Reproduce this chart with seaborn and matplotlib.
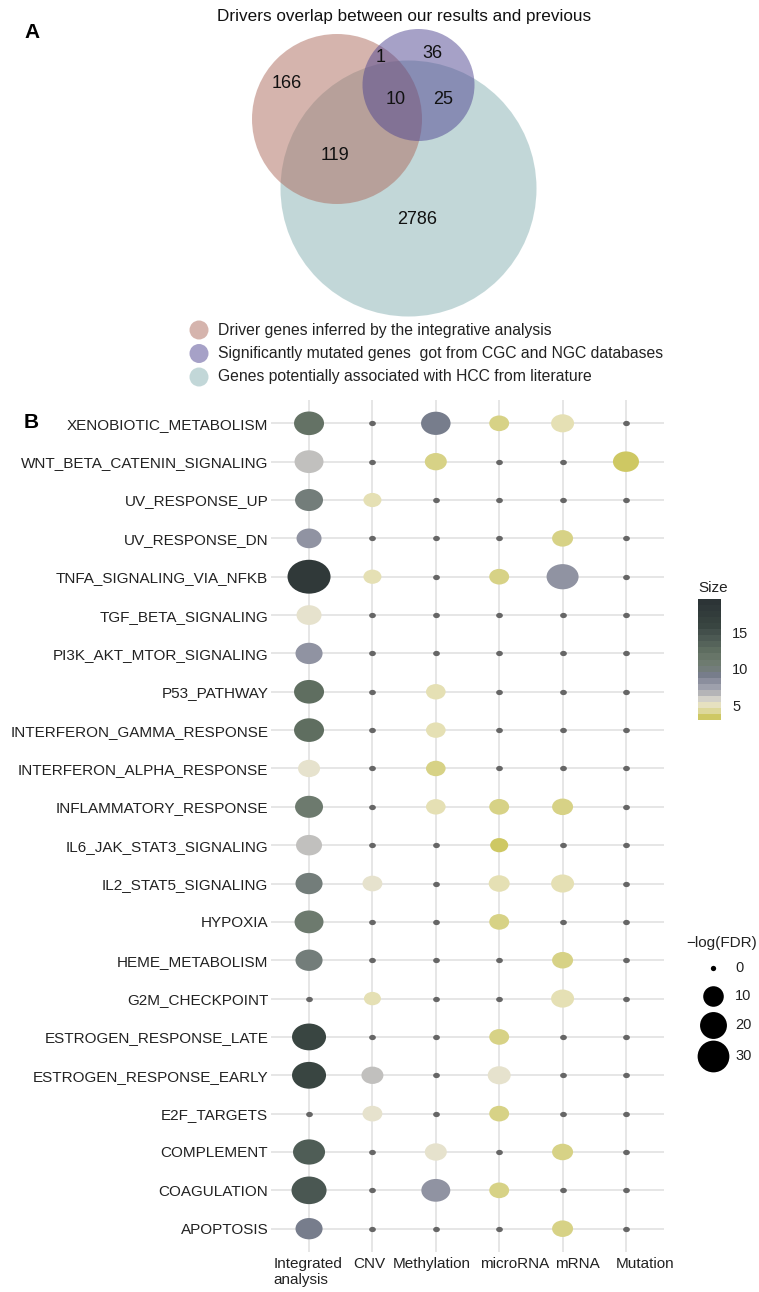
import numpy as np
import pandas as pd
import matplotlib
matplotlib.use("Agg")
import matplotlib.pyplot as plt
import matplotlib.colors as mcolors
from matplotlib.patches import Circle
from matplotlib.path import Path
from matplotlib.markers import MarkerStyle
from matplotlib.transforms import Affine2D, ScaledTranslation
from matplotlib.lines import Line2D
import seaborn as sns

sns.set_theme(style="white")
plt.rcParams["font.family"] = ["Liberation Sans", "DejaVu Sans"]

# ---------------- Panel A: Venn data ----------------
venn_title = "Drivers overlap between our results and previous"
set_names = [
    "Driver genes inferred by the integrative analysis",
    "Significantly mutated genes  got from CGC and NGC databases",
    "Genes potentially associated with HCC from literature",
]
set_colors = ["#ad6b5d", "#4f4591", "#87b1b3"]
# region counts: only-driver, driver&mutated, only-mutated, all three,
# mutated&literature, driver&literature, only-literature
region_counts = [166, 1, 36, 10, 25, 119, 2786]

# ---------------- Panel B: enrichment data ----------------
pathways = [
    "XENOBIOTIC_METABOLISM", "WNT_BETA_CATENIN_SIGNALING", "UV_RESPONSE_UP",
    "UV_RESPONSE_DN", "TNFA_SIGNALING_VIA_NFKB", "TGF_BETA_SIGNALING",
    "PI3K_AKT_MTOR_SIGNALING", "P53_PATHWAY", "INTERFERON_GAMMA_RESPONSE",
    "INTERFERON_ALPHA_RESPONSE", "INFLAMMATORY_RESPONSE", "IL6_JAK_STAT3_SIGNALING",
    "IL2_STAT5_SIGNALING", "HYPOXIA", "HEME_METABOLISM", "G2M_CHECKPOINT",
    "ESTROGEN_RESPONSE_LATE", "ESTROGEN_RESPONSE_EARLY", "E2F_TARGETS",
    "COMPLEMENT", "COAGULATION", "APOPTOSIS",
]
sources = ["Integrated\nanalysis", "CNV", "Methylation", "microRNA", "mRNA", "Mutation"]

N = None
# -log(FDR) per data source (one value per pathway, top to bottom)
logfdr_integrated = [14.4, 13.1, 12.0, 8.9, 35.0, 8.9, 11.0, 14.4, 14.4, 6.2, 12.0,
                     9.9, 11.0, 13.1, 11.0, 0, 19.8, 19.8, 0, 17.0, 21.3, 11.0]
logfdr_cnv = [0, 0, 3.4, 0, 3.4, 0, 0, 0, 0, 0, 0,
              0, 4.6, 0, 0, 2.8, 0, 6.2, 4.6, 0, 0, 0]
logfdr_methylation = [13.8, 6.2, 0, 0, 0, 0, 0, 4.4, 4.4, 4.4, 4.4,
                      0, 0, 0, 0, 0, 0, 0, 0, 6.2, 13.1, 0]
logfdr_microrna = [4.6, 0, 0, 0, 4.6, 0, 0, 0, 0, 0, 4.6,
                   3.4, 5.4, 4.6, 0, 0, 4.6, 7.0, 4.6, 0, 4.6, 0]
logfdr_mrna = [7.0, 0, 0, 5.4, 17.0, 0, 0, 0, 0, 0, 5.4,
               0, 7.0, 0, 5.4, 7.0, 0, 0, 0, 5.4, 0, 5.4]
logfdr_mutation = [0, 9.9, 0, 0, 0, 0, 0, 0, 0, 0, 0,
                   0, 0, 0, 0, 0, 0, 0, 0, 0, 0, 0]

# overlap size per data source (None where the pathway is not enriched)
size_integrated = [12, 6, 10, 8, 18.5, 5, 8, 12.5, 12.5, 5, 11,
                   6, 10, 11, 10, N, 16, 16, N, 14, 14.5, 9]
size_cnv = [N, N, 4.5, N, 4.5, N, N, N, N, N, N,
            N, 5, N, N, 4.5, N, 6, 5, N, N, N]
size_methylation = [9, 3.5, N, N, N, N, N, 4.5, 4.5, 3.5, 4.5,
                    N, N, N, N, N, N, N, N, 5, 8, N]
size_microrna = [3.5, N, N, N, 3.5, N, N, N, N, N, 3.5,
                 3, 4.5, 3.5, N, N, 3.5, 5, 3.5, N, 3.5, N]
size_mrna = [4.5, N, N, 3.5, 8, N, N, N, N, N, 3.5,
             N, 4.5, N, 3.5, 4.5, N, N, N, 3.5, N, 3.5]
size_mutation = [N, 3, N, N, N, N, N, N, N, N, N,
                 N, N, N, N, N, N, N, N, N, N, N]

logfdr_by_source = [logfdr_integrated, logfdr_cnv, logfdr_methylation,
                    logfdr_microrna, logfdr_mrna, logfdr_mutation]
size_by_source = [size_integrated, size_cnv, size_methylation,
                  size_microrna, size_mrna, size_mutation]

size_breaks = [0, 10, 20, 30]
color_breaks = [5, 10, 15]

rows = []
for src, lf, sz in zip(sources, logfdr_by_source, size_by_source):
    for pw, v, s in zip(pathways, lf, sz):
        rows.append({"source": src, "pathway": pw, "logfdr": float(v),
                     "gene_size": np.nan if s is None else float(s)})
df = pd.DataFrame(rows)

# ---------------- figure ----------------
W, H, DPI = 759, 1292, 100
fig = plt.figure(figsize=(W / DPI, H / DPI), dpi=DPI)
PT = 72.0 / DPI  # points per pixel

# Panel A axes in pixel units
venn_h = 395
axv = fig.add_axes([0, 1 - venn_h / H, 1, venn_h / H])
axv.set_xlim(0, W)
axv.set_ylim(venn_h, 0)
axv.axis("off")

# circle layout (centre x, centre y, radius) for literature, driver, mutated sets
circle_layout = [(408.5, 188.5, 128), (337, 119, 85), (418.5, 85, 56)]
draw_order = [2, 0, 1]
for k, (cx, cy, r) in zip(draw_order, circle_layout):
    axv.add_patch(Circle((cx, cy), r, facecolor=set_colors[k], alpha=0.5,
                         edgecolor="none", zorder=1 + draw_order.index(k)))

region_text_pos = [(287, 84), (381, 57), (432, 53), (396, 99),
                   (443, 99), (335, 155), (417, 220)]
for (tx, ty), n in zip(region_text_pos, region_counts):
    axv.text(tx, ty, f"{n}", ha="center", va="center", fontsize=13,
             color="#111111", zorder=10)

axv.text(404, 16, venn_title, ha="center", va="center", fontsize=12.3,
         color="#111111")
axv.text(32, 32, "A", ha="center", va="center", fontsize=15,
         fontweight="bold", color="black")

for i, (name, col) in enumerate(zip(set_names, set_colors)):
    y = 330 + i * 23.5
    axv.add_patch(Circle((199, y), 9.5, facecolor=col, alpha=0.5,
                         edgecolor="none"))
    axv.text(218, y, name, ha="left", va="center", fontsize=11.35,
             color="#222222")

# Panel B axes
left, right, top, bottom = 271, 664, 400.3, 1251.7
ax = fig.add_axes([left / W, 1 - bottom / H, (right - left) / W, (bottom - top) / H])

# dot size scale (ggplot-like: diameter grows with sqrt of value)
D0, DK, ELL = 5.3, 4.83, 1.27


def diam_px(v):
    return D0 + DK * np.sqrt(np.clip(v, 0, None))


def fwd(v):
    return diam_px(np.asarray(v, dtype=float)) ** 2


def inv(y):
    y = np.clip(np.asarray(y, dtype=float), D0 ** 2, None)
    return ((np.sqrt(y) - D0) / DK) ** 2


vmax_size = float(df["logfdr"].max())
size_norm = mcolors.FuncNorm((fwd, inv), vmin=0, vmax=vmax_size)
scale_area = (ELL * PT) ** 2
size_range = (scale_area * fwd(0), scale_area * fwd(vmax_size))

ell_marker = MarkerStyle(Path.unit_circle().transformed(Affine2D().scale(ELL, 1.0)))

# colour scale for overlap size
cvmin, cvmax = 3.0, 19.5
anchors = [(3.0, "#cec863"), (3.5, "#d8d38a"), (4.5, "#e5e0b5"), (5.2, "#e7e3d6"),
           (6.0, "#c0bfbd"), (7.5, "#9a9caa"), (8.0, "#9093a2"), (9.0, "#777d8c"),
           (10.0, "#737d7a"), (11.0, "#6d7a6e"), (12.5, "#5f6e60"), (14.5, "#4a5752"),
           (16.0, "#394541"), (19.5, "#2c3436")]
cmap = mcolors.LinearSegmentedColormap.from_list(
    "size_cmap", [((v - cvmin) / (cvmax - cvmin), c) for v, c in anchors])
cnorm = mcolors.Normalize(cvmin, cvmax)

# grey base dots for every cell (also fixes category order)
sns.scatterplot(data=df, x="source", y="pathway", color="#666666",
                s=scale_area * fwd(0), marker=ell_marker, linewidth=0,
                legend=False, ax=ax, zorder=3)
# enriched cells
sns.scatterplot(data=df[df["gene_size"].notna()], x="source", y="pathway",
                hue="gene_size", palette=cmap, hue_norm=cnorm,
                size="logfdr", sizes=size_range, size_norm=size_norm,
                marker=ell_marker, linewidth=0, legend=False, ax=ax, zorder=4)

ax.set_xlim(-0.6, len(sources) - 0.4)
ax.set_ylim(len(pathways) - 0.4, -0.6)
ax.set_xlabel("")
ax.set_ylabel("")
for s in ax.spines.values():
    s.set_visible(False)
ax.grid(True, color="#e6e6e6", linewidth=1.4, zorder=0)
ax.set_axisbelow(True)
ax.tick_params(axis="both", length=0, labelsize=11, labelcolor="#222222")
ax.tick_params(axis="y", pad=2)
ax.tick_params(axis="x", pad=4)
# horizontal nudges (pixels) of the source labels
label_nudge_px = [-1, -3, -4, 15, 15, 19]
for lab, dx in zip(ax.get_xticklabels(), label_nudge_px):
    lab.set_multialignment("left")
    lab.set_transform(lab.get_transform() +
                      ScaledTranslation(dx / DPI, 0, fig.dpi_scale_trans))

fig.text(31 / W, 1 - 423 / H, "B", ha="center", va="center", fontsize=15,
         fontweight="bold", color="black")

# colour bar legend
cax = fig.add_axes([698 / W, 1 - 720 / H, 23 / W, 121 / H])
sm = plt.cm.ScalarMappable(norm=cnorm, cmap=cmap.resampled(20))
cb = fig.colorbar(sm, cax=cax, ticks=color_breaks)
cb.outline.set_visible(False)
cax.tick_params(axis="y", which="both", left=True, right=True, direction="in",
                length=4, width=0.8, color="white", labelright=True,
                labelleft=False, labelsize=10.5, labelcolor="#222222", pad=8)
cax.minorticks_off()
fig.text(698 / W, 1 - 588 / H, "Size", ha="left", va="center", fontsize=11,
         color="#222222")

# size legend
fig.text(686 / W, 1 - 943 / H, "\u2212log(FDR)", ha="left", va="center",
         fontsize=11, color="#222222")
key_y = [968, 996, 1025, 1056]
for v, ky in zip(size_breaks, key_y):
    fig.lines.append(Line2D([713 / W], [1 - ky / H], transform=fig.transFigure,
                            marker="o", markersize=diam_px(v) * PT,
                            markerfacecolor="black", markeredgewidth=0,
                            linestyle="none"))
    fig.text(735 / W, 1 - ky / H, f"{v}", ha="left", va="center",
             fontsize=10.5, color="#222222")

fig.savefig("out.png", dpi=DPI, facecolor="white")
